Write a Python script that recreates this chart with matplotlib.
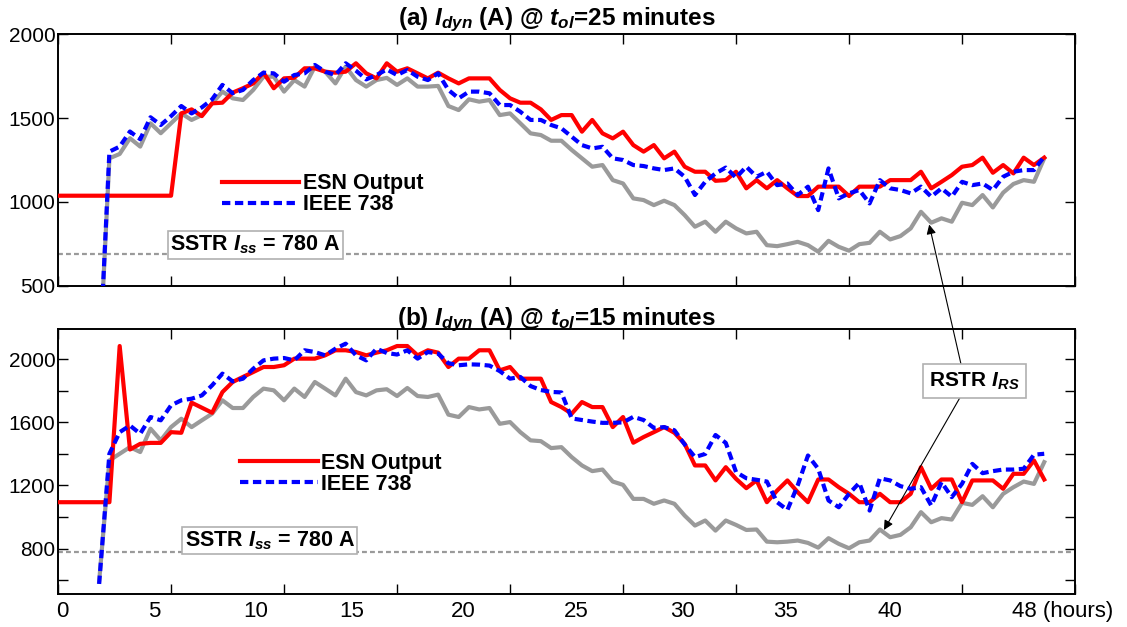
import matplotlib
matplotlib.use("Agg")
import matplotlib.pyplot as plt
import numpy as np

nan = np.nan

# sample times (hours), one every half hour
hours = np.arange(0, 48.5, 0.5)

# (a) t_ol = 25 minutes
esn_a = [1037, 1037, 1037, 1037, 1037, 1037, 1037, 1037, 1037, 1037,
         1037, 1037, 1528, 1552, 1512, 1588, 1592, 1652, 1678, 1707,
         1771, 1678, 1737, 1741, 1797, 1797, 1777, 1771, 1777, 1827,
         1767, 1737, 1827, 1777, 1797, 1767, 1737, 1771, 1737, 1707,
         1737, 1737, 1737, 1668, 1618, 1592, 1592, 1552, 1489, 1518,
         1518, 1419, 1489, 1409, 1379, 1419, 1339, 1300, 1339, 1260,
         1300, 1210, 1180, 1180, 1126, 1130, 1180, 1081, 1130, 1081,
         1130, 1081, 1035, 1035, 1091, 1091, 1091, 1035, 1091, 1091,
         1091, 1130, 1130, 1130, 1180, 1081, 1120, 1160, 1210, 1220,
         1264, 1174, 1220, 1170, 1264, 1220, 1264]
ieee_a = [nan, nan, nan, nan, 0, 1300, 1330, 1420, 1374, 1505,
          1459, 1512, 1572, 1528, 1564, 1612, 1698, 1648, 1668, 1727,
          1771, 1767, 1717, 1757, 1767, 1817, 1777, 1757, 1827, 1783,
          1731, 1757, 1790, 1757, 1787, 1747, 1727, 1767, 1668, 1618,
          1658, 1658, 1648, 1578, 1578, 1538, 1489, 1489, 1459, 1439,
          1389, 1339, 1319, 1329, 1260, 1250, 1220, 1214, 1200, 1190,
          1200, 1150, 1041, 1120, 1170, 1205, 1145, 1210, 1150, 1180,
          1100, 1110, 1041, 1091, 951, 1200, 1021, 1051, 1071, 991,
          1130, 1081, 1071, 1051, 1091, 1031, 1081, 1031, 1120, 1100,
          1110, 1071, 1150, 1180, 1190, 1190, 1270]
rstr_a = [nan, nan, nan, nan, 0, 1260, 1286, 1380, 1330, 1469,
          1410, 1469, 1528, 1489, 1518, 1588, 1658, 1618, 1608, 1668,
          1747, 1747, 1658, 1727, 1688, 1807, 1777, 1707, 1807, 1727,
          1688, 1727, 1740, 1698, 1737, 1688, 1688, 1692, 1572, 1548,
          1612, 1598, 1608, 1518, 1528, 1469, 1409, 1399, 1365, 1365,
          1310, 1260, 1210, 1220, 1130, 1110, 1021, 1011, 981, 1007,
          981, 921, 852, 882, 822, 882, 842, 812, 822, 742,
          736, 748, 762, 742, 703, 768, 732, 709, 748, 756,
          822, 776, 796, 842, 941, 876, 902, 882, 995, 981,
          1041, 967, 1055, 1107, 1130, 1120, 1260]
sstr_a = 690

# (b) t_ol = 15 minutes
esn_b = [1094, 1094, 1094, 1094, 1094, 1094, 2084, 1428, 1464, 1470,
         1470, 1538, 1534, 1725, 1693, 1661, 1792, 1856, 1888, 1919,
         1951, 1951, 1962, 2004, 2004, 2004, 2025, 2057, 2057, 2046,
         2025, 2042, 2057, 2084, 2084, 2025, 2057, 2042, 1951, 2004,
         2004, 2057, 2057, 1930, 1951, 1877, 1877, 1877, 1729, 1697,
         1655, 1729, 1697, 1697, 1570, 1634, 1471, 1507, 1538, 1570,
         1534, 1464, 1327, 1327, 1232, 1316, 1242, 1183, 1232, 1094,
         1168, 1232, 1158, 1094, 1238, 1238, 1189, 1147, 1094, 1094,
         1147, 1094, 1094, 1147, 1316, 1179, 1238, 1238, 1094, 1232,
         1232, 1232, 1179, 1274, 1274, 1359, 1238]
ieee_b = [nan, nan, nan, nan, 576, 1401, 1538, 1580, 1528, 1634,
          1613, 1708, 1740, 1750, 1771, 1835, 1909, 1860, 1877, 1940,
          1993, 2004, 2008, 1993, 2057, 2046, 2025, 2067, 2099, 2025,
          1993, 2067, 2040, 2030, 2057, 2004, 2046, 2036, 1975, 1962,
          1968, 1966, 1960, 1925, 1877, 1888, 1830, 1805, 1793, 1790,
          1625, 1615, 1605, 1597, 1597, 1600, 1635, 1615, 1565, 1570,
          1550, 1460, 1380, 1400, 1520, 1470, 1285, 1246, 1236, 1225,
          1094, 1045, 1200, 1390, 1306, 1105, 1062, 1147, 1217, 1041,
          1246, 1232, 1196, 1179, 1189, 1073, 1221, 1126, 1211, 1337,
          1278, 1291, 1301, 1301, 1306, 1395, 1401]
rstr_b = [nan, nan, nan, nan, 590, 1359, 1401, 1443, 1412, 1560,
          1486, 1570, 1623, 1570, 1613, 1655, 1740, 1691, 1691, 1761,
          1814, 1803, 1740, 1814, 1761, 1856, 1814, 1771, 1877, 1792,
          1771, 1803, 1810, 1767, 1818, 1767, 1761, 1776, 1649, 1634,
          1697, 1682, 1691, 1591, 1602, 1538, 1486, 1481, 1437, 1443,
          1380, 1327, 1291, 1301, 1225, 1204, 1115, 1115, 1084, 1105,
          1084, 1009, 946, 978, 914, 978, 950, 918, 921, 844,
          840, 844, 851, 836, 806, 866, 830, 802, 840, 851,
          921, 872, 887, 935, 1031, 967, 993, 984, 1090, 1077,
          1132, 1062, 1147, 1189, 1225, 1210, 1348]
sstr_b = 780

x_label_values = ["0", "5", "10", "15", "20", "25", "30", "35", "40", "48 (hours)"]
x_label_pos = [0.2, 4.7, 9.6, 14.3, 19.7, 25.2, 30.4, 35.4, 40.5, 48.9]

plt.rcParams["font.family"] = "Liberation Sans"
plt.rcParams["mathtext.fontset"] = "custom"
plt.rcParams["mathtext.rm"] = "Liberation Sans"
plt.rcParams["mathtext.it"] = "Liberation Sans:italic"
plt.rcParams["mathtext.bf"] = "Liberation Sans:bold"
plt.rcParams["mathtext.bfit"] = "Liberation Sans:italic:bold"

GRAY = "#9a9a9a"


def style_axes(ax, ylim, yticks, ylabels):
    ax.set_xlim(0, 49.5)
    ax.set_ylim(*ylim)
    ax.set_xticks(np.arange(0, 49.6, 5.5))
    ax.set_xticklabels([])
    ax.set_yticks(yticks)
    ax.set_yticklabels(ylabels)
    ax.tick_params(which="major", direction="in", length=7, width=1,
                   top=True, right=True, labelsize=15, pad=2)
    for s in ax.spines.values():
        s.set_linewidth(1.4)


def draw_panel(ax, esn, ieee, rstr, sstr, title, legend_xy, box_xy):
    ax.plot(hours, rstr, color=GRAY, lw=3, zorder=2)
    ax.plot(hours, esn, color="red", lw=3, label="ESN Output", zorder=3)
    ax.plot(hours, ieee, color="blue", lw=3, ls=(0, (2, 1.1)), label="IEEE 738", zorder=4)
    ax.axhline(sstr, color=GRAY, lw=1.6, ls=(0, (2.2, 1.4)), zorder=1)
    ax.text(box_xy[0], box_xy[1], r"SSTR $\mathbfit{I}_{\mathbfit{ss}}$ = 780 A",
            fontsize=15.5, fontweight="bold", ha="center", va="center", zorder=5,
            bbox=dict(boxstyle="square,pad=0.12", facecolor="white", edgecolor="#b0b0b0", lw=1.2))
    ax.legend(loc="center left", bbox_to_anchor=legend_xy, frameon=False,
              prop={"weight": "bold", "size": 15.5}, handlelength=3.6,
              handletextpad=0.15, labelspacing=0.0, borderpad=0, borderaxespad=0)
    ax.set_title(title, fontsize=17.5, fontweight="bold", pad=3, x=0.49)


fig = plt.figure(figsize=(11.27, 6.27), dpi=100)
ax1 = fig.add_axes([0.0515, 0.5443, 0.9024, 0.401])
ax2 = fig.add_axes([0.0515, 0.0526, 0.9024, 0.4222])

draw_panel(ax1, esn_a, ieee_a, rstr_a, sstr_a,
           r"(a) $\mathbfit{I}_{\mathbfit{dyn}}$ (A) @ $\mathbfit{t}_{\mathbfit{ol}}$=25 minutes",
           (0.161, 0.363), (9.6, 743))
draw_panel(ax2, esn_b, ieee_b, rstr_b, sstr_b,
           r"(b) $\mathbfit{I}_{\mathbfit{dyn}}$ (A) @ $\mathbfit{t}_{\mathbfit{ol}}$=15 minutes",
           (0.179, 0.455), (10.3, 851))

style_axes(ax1, (500, 2000), [500, 1000, 1500, 2000], ["500", "1000", "1500", "2000"])
style_axes(ax2, (512, 2190), np.arange(600, 2001, 200),
           ["", "800", "", "1200", "", "1600", "", "2000"])
ax2.set_xticks(x_label_pos, labels=x_label_values, minor=True)
ax2.tick_params(which="minor", length=0, labelsize=16, pad=5)

# RSTR annotation with two arrows (one into the upper panel)
ax2.text(44.6, 1860, r"RSTR $\mathbfit{I}_{\mathbfit{RS}}$", fontsize=15, fontweight="bold",
         ha="center", va="center", zorder=6,
         bbox=dict(boxstyle="square,pad=0.3", facecolor="white", edgecolor="#b0b0b0", lw=1.2))
arrow = dict(arrowstyle="-|>", color="black", lw=0.8, mutation_scale=14, shrinkA=0, shrinkB=0)
ax2.annotate("", xy=(42.4, 865), xycoords=ax1.transData, xytext=(44.0, 1940),
             textcoords="data", arrowprops=arrow, annotation_clip=False)
ax2.annotate("", xy=(40.2, 918), xytext=(44.0, 1780), arrowprops=arrow)

fig.savefig("out.png", dpi=100, facecolor="white")
plt.close(fig)
